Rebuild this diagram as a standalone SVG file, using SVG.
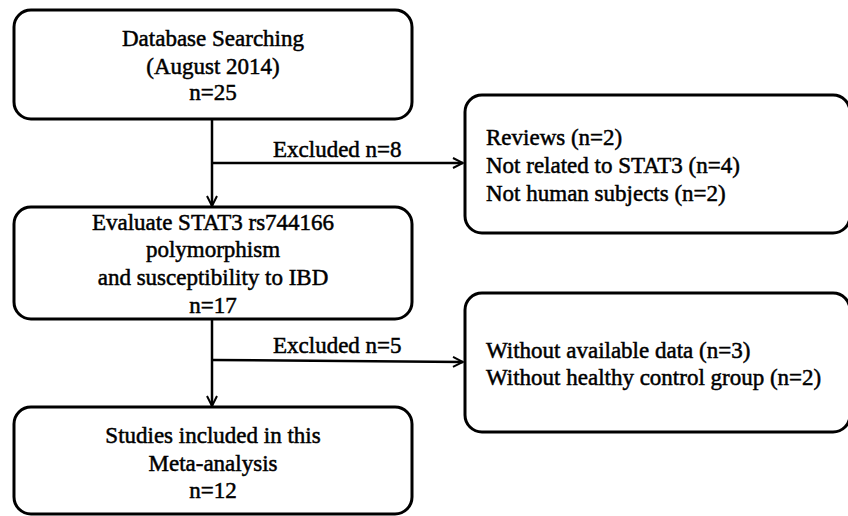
<svg xmlns="http://www.w3.org/2000/svg" width="848" height="516" viewBox="0 0 848 516">
<style>
.box{fill:#fff;stroke:#000;stroke-width:3}
.t{font-family:"Liberation Serif","Times New Roman",serif;font-size:23px;fill:#000;stroke:#000;stroke-width:0.5}
.c{text-anchor:middle}
.ln{fill:none;stroke:#000;stroke-width:2.5}
</style>
<defs>
<marker id="ah" viewBox="0 0 12 12" refX="11" refY="6" markerWidth="12" markerHeight="12" markerUnits="userSpaceOnUse" orient="auto">
<path d="M1,1 L11,6 L1,11" fill="none" stroke="#000" stroke-width="2"/>
</marker>
</defs>
<rect width="848" height="516" fill="#fff"/>
<g id="connectors">
<line class="ln" x1="212" y1="119" x2="212" y2="206" marker-end="url(#ah)"/>
<line class="ln" x1="212" y1="163" x2="463" y2="163" marker-end="url(#ah)"/>
<text class="t" x="273" y="157">Excluded n=8</text>
<line class="ln" x1="212" y1="319" x2="212" y2="406" marker-end="url(#ah)"/>
<line class="ln" x1="212" y1="360" x2="463" y2="362" marker-end="url(#ah)"/>
<text class="t" x="273" y="353">Excluded n=5</text>
</g>
<g id="n1">
<rect class="box" x="14" y="10" width="398" height="109" rx="17"/>
<text class="t c" x="213" y="46">Database Searching</text>
<text class="t c" x="213" y="74">(August 2014)</text>
<text class="t c" x="213" y="100">n=25</text>
</g>
<g id="n2">
<rect class="box" x="14" y="207" width="398" height="112" rx="17"/>
<text class="t c" x="213" y="230">Evaluate STAT3 rs744166</text>
<text class="t c" x="213" y="257">polymorphism</text>
<text class="t c" x="213" y="285">and susceptibility to IBD</text>
<text class="t c" x="213" y="313">n=17</text>
</g>
<g id="n3">
<rect class="box" x="14" y="407" width="398" height="107" rx="17"/>
<text class="t c" x="213" y="443">Studies included in this</text>
<text class="t c" x="213" y="471">Meta-analysis</text>
<text class="t c" x="213" y="498">n=12</text>
</g>
<g id="r1">
<rect class="box" x="465" y="95" width="385" height="138" rx="17"/>
<text class="t" x="486" y="145">Reviews (n=2)</text>
<text class="t" x="486" y="173">Not related to STAT3 (n=4)</text>
<text class="t" x="486" y="201">Not human subjects (n=2)</text>
</g>
<g id="r2">
<rect class="box" x="465" y="293" width="385" height="139" rx="17"/>
<text class="t" x="486" y="358">Without available data (n=3)</text>
<text class="t" x="486" y="385">Without healthy control group (n=2)</text>
</g>
</svg>
